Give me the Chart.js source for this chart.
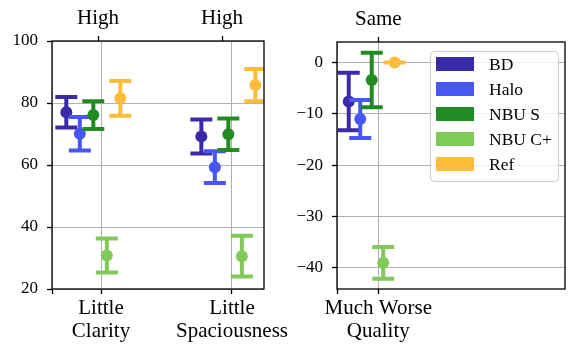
<!DOCTYPE html>
<html>
<head>
<meta charset="utf-8">
<script src="https://cdn.jsdelivr.net/npm/chart.js@4.4.1/dist/chart.umd.min.js"></script>
<style>
  html, body { margin: 0; padding: 0; background: #ffffff; }
  #wrap { position: relative; width: 571px; height: 347px; overflow: hidden; background: #fff; }
  canvas { position: absolute; top: 0; }
  #c1 { left: 0; z-index: 1; }
  #c2 { left: 285px; z-index: 2; }
</style>
</head>
<body>
<div id="wrap">
  <canvas id="c1" width="305" height="347"></canvas>
  <canvas id="c2" width="286" height="347"></canvas>
</div>
<script>
// ---------------- DATA ----------------
const series = ['BD', 'Halo', 'NBU S', 'NBU C+', 'Ref'];

// left panel categories (bottom) and their top labels
const leftCategories = [['Little', 'Clarity'], ['Little', 'Spaciousness']];
const leftTopLabels = ['High', 'High'];
// right panel
const rightCategories = [['Much Worse', 'Quality']];
const rightTopLabels = ['Same'];

// means: [Little Clarity, Little Spaciousness, Much Worse Quality]
const meanBD    = [77.0, 69.2, -7.6];
const meanHalo  = [70.1, 59.3, -11.0];
const meanNBUS  = [76.1, 69.9, -3.4];
const meanNBUC  = [30.8, 30.6, -39.0];
const meanRef   = [81.5, 85.8, 0.0];
// error half-widths
const errBD     = [4.9, 5.5, 5.6];
const errHalo   = [5.4, 5.1, 3.7];
const errNBUS   = [4.5, 5.1, 5.3];
const errNBUC   = [5.5, 6.6, 3.1];
const errRef    = [5.6, 5.2, 0.0];

const leftYTicks = [20, 40, 60, 80, 100];
const rightYTicks = [-40, -30, -20, -10, 0];

// ---------------- STYLE / LAYOUT ----------------
const means = [meanBD, meanHalo, meanNBUS, meanNBUC, meanRef];
const errs = [errBD, errHalo, errNBUS, errNBUC, errRef];
const colors = ['#3b2aa8', '#4757f5', '#238b23', '#7fca58', '#fcbc3c'];
const FONT = 'Liberation Serif, Times New Roman, serif';
const FS_X = 21, FS_Y = 17, FS_LEG = 17.5;
const GROUP_SPREAD = 0.1;   // x offset between series inside a group

const errorBarPlugin = {
  id: 'errbars',
  beforeDatasetDraw(chart, args) {
    const ds = chart.data.datasets[args.index];
    if (!ds.errors) return;
    const { ctx, chartArea: a, scales } = chart;
    const xs = scales.x, ys = scales.y;
    ctx.save();
    ctx.beginPath();
    ctx.rect(a.left, a.top, a.right - a.left, a.bottom - a.top);
    ctx.clip();
    ctx.strokeStyle = ds.backgroundColor;
    ctx.lineWidth = 4;
    ctx.lineCap = 'butt';
    ds.data.forEach((p, k) => {
      const e = ds.errors[k];
      const px = xs.getPixelForValue(p.x);
      const top = ys.getPixelForValue(p.y + e);
      const bot = ys.getPixelForValue(p.y - e);
      ctx.beginPath();
      ctx.moveTo(px, top); ctx.lineTo(px, bot);
      ctx.stroke();
      ctx.beginPath();
      ctx.moveTo(px - 11, top); ctx.lineTo(px + 11, top);
      ctx.moveTo(px - 11, bot); ctx.lineTo(px + 11, bot);
      ctx.stroke();
    });
    ctx.restore();
  }
};

const framePlugin = {
  id: 'frame',
  afterDraw(chart, args, opts) {
    const { ctx, chartArea: a } = chart;
    if (opts && opts.legend) {
      ctx.save();
      const bx = a.right - 135, by = a.top + 9, bw = 128, bh = 130;
      ctx.fillStyle = 'rgba(255,255,255,0.8)';
      ctx.strokeStyle = '#cccccc';
      ctx.lineWidth = 1;
      ctx.beginPath();
      ctx.roundRect(bx + 0.5, by + 0.5, bw, bh, 4);
      ctx.fill();
      ctx.stroke();
      ctx.font = FS_LEG + 'px ' + FONT;
      ctx.textBaseline = 'middle';
      ctx.textAlign = 'left';
      series.forEach((s, i) => {
        const cy = by + 13 + i * 25;
        ctx.fillStyle = colors[i];
        ctx.fillRect(bx + 6, cy - 7, 38, 14);
        ctx.fillStyle = '#000';
        ctx.fillText(s, bx + 59, cy + 1);
      });
      ctx.restore();
    }
    ctx.save();
    ctx.strokeStyle = '#000';
    ctx.lineWidth = 1.3;
    ctx.strokeRect(a.left, a.top, a.right - a.left, a.bottom - a.top);
    ctx.restore();
  }
};

function minusFmt(v) {
  return v < 0 ? '\u2212' + Math.abs(v) : String(v);
}

function buildChart(canvasId, cfg) {
  const datasets = series.map((name, i) => ({
    label: name,
    data: cfg.catIdx.map((ci, k) => ({ x: k + (i - 2) * GROUP_SPREAD, y: means[i][ci] })),
    errors: cfg.catIdx.map(ci => errs[i][ci]),
    backgroundColor: colors[i],
    borderColor: colors[i],
    pointRadius: 6,
    pointBorderWidth: 0,
    showLine: false,
    order: 5 - i
  }));

  const bottomTickVals = [cfg.xmin].concat(cfg.bottomTicks);
  const bottomTickLabels = [''].concat(cfg.categories);

  return new Chart(document.getElementById(canvasId), {
    type: 'scatter',
    data: { datasets },
    plugins: [errorBarPlugin, framePlugin],
    options: {
      responsive: false,
      animation: false,
      events: [],
      layout: { padding: { left: 0, right: cfg.padRight, top: 0, bottom: 0 } },
      plugins: {
        legend: { display: false },
        tooltip: { enabled: false },
        frame: { legend: cfg.legend }
      },
      scales: {
        x: {
          type: 'linear',
          position: 'bottom',
          min: cfg.xmin, max: cfg.xmax,
          afterBuildTicks: s => { s.ticks = bottomTickVals.map(v => ({ value: v })); },
          afterFit: s => { s.height = 58; s.paddingLeft = 0; s.paddingRight = 0; },
          ticks: {
            autoSkip: false, maxRotation: 0, minRotation: 0,
            padding: 3, color: '#000',
            font: { family: FONT, size: FS_X, lineHeight: 1.1 },
            callback: (v, idx) => bottomTickLabels[idx]
          },
          grid: { color: '#b0b0b0', lineWidth: 1, tickColor: '#000', tickWidth: 1.3, tickLength: 5 },
          border: { display: false }
        },
        x2: {
          type: 'linear',
          position: 'top',
          min: cfg.xmin, max: cfg.xmax,
          afterBuildTicks: s => { s.ticks = cfg.topTicks.map(v => ({ value: v })); },
          afterFit: s => { s.height = cfg.top; s.paddingLeft = 0; s.paddingRight = 0; },
          ticks: {
            autoSkip: false, maxRotation: 0, minRotation: 0,
            padding: 5, color: '#000',
            font: { family: FONT, size: FS_X, lineHeight: 1.2 },
            callback: (v, idx) => cfg.topLabels[idx]
          },
          grid: { drawOnChartArea: false, tickColor: '#000', tickWidth: 1.3, tickLength: 5 },
          border: { display: false }
        },
        y: {
          type: 'linear',
          min: cfg.ymin, max: cfg.ymax,
          afterBuildTicks: s => { s.ticks = cfg.yTicks.map(v => ({ value: v })); },
          afterFit: s => { s.width = 52; s.paddingTop = 0; s.paddingBottom = 0; },
          ticks: {
            padding: 9, color: '#000',
            font: { family: FONT, size: FS_Y },
            callback: v => minusFmt(v)
          },
          grid: { color: '#b0b0b0', lineWidth: 1, tickColor: '#000', tickWidth: 1.3, tickLength: 5 },
          border: { display: false }
        }
      }
    }
  });
}

buildChart('c1', {
  catIdx: [0, 1],
  categories: leftCategories,
  topLabels: leftTopLabels,
  bottomTicks: [0.057, 1.027],
  topTicks: [0.035, 0.953],
  xmin: -0.306, xmax: 1.264,
  ymin: 20, ymax: 100,
  yTicks: leftYTicks,
  padRight: 41,
  top: 41,
  legend: false
});

buildChart('c2', {
  catIdx: [2],
  categories: rightCategories,
  topLabels: rightTopLabels,
  bottomTicks: [0.057],
  topTicks: [0.057],
  xmin: -0.302, xmax: 1.681,
  ymin: -44.1, ymax: 4.0,
  yTicks: rightYTicks,
  padRight: 2,
  top: 42,
  legend: true
});
</script>
</body>
</html>
